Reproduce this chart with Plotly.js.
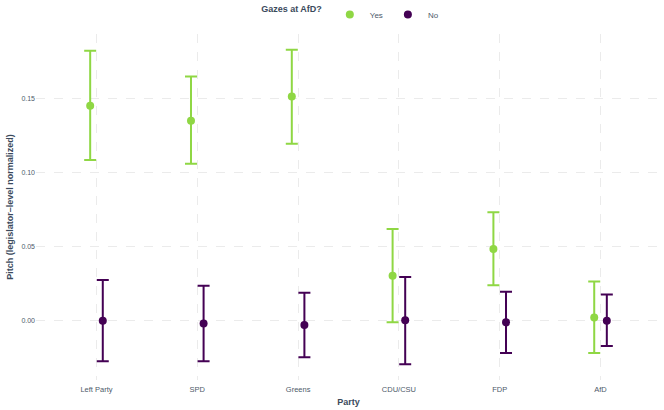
<!DOCTYPE html>
<html>
<head>
<meta charset="utf-8">
<script src="https://cdn.plot.ly/plotly-3.0.1.min.js"></script>
<style>
  html, body { margin: 0; padding: 0; background: #fff; }
  #chart { width: 664px; height: 410px; }
</style>
</head>
<body>
<div id="chart"></div>
<script>
const parties = ["Left Party", "SPD", "Greens", "CDU/CSU", "FDP", "AfD"];

// Gazes at AfD = Yes
const yesMean  = [0.1453, 0.1350, 0.1514, 0.0304, 0.0484, 0.0022];
const yesUpper = [0.1824, 0.1650, 0.1830, 0.0620, 0.0732, 0.0264];
const yesLower = [0.1086, 0.1060, 0.1196, -0.0011, 0.0239, -0.0218];

// Gazes at AfD = No
const noMean  = [0.0000, -0.0020, -0.0029, 0.0002, -0.0011, 0.0000];
const noUpper = [0.0274, 0.0236, 0.0189, 0.0295, 0.0196, 0.0176];
const noLower = [-0.0275, -0.0275, -0.0248, -0.0295, -0.0218, -0.0171];

const yesColor = "#8fd744";
const noColor = "#440154";

function makeTrace(name, mean, upper, lower, color) {
  return {
    type: "scatter",
    mode: "markers",
    name: name,
    x: parties,
    y: mean,
    offsetgroup: name,
    marker: { color: color, size: 8 },
    error_y: {
      type: "data",
      symmetric: false,
      array: upper.map((u, i) => u - mean[i]),
      arrayminus: lower.map((l, i) => mean[i] - l),
      color: color,
      thickness: 2,
      width: 6
    }
  };
}

const traces = [
  makeTrace("Yes", yesMean, yesUpper, yesLower, yesColor),
  makeTrace("No", noMean, noUpper, noLower, noColor)
];

const layout = {
  width: 664,
  height: 410,
  margin: { l: 36, r: 3, t: 34, b: 30, autoexpand: false },
  paper_bgcolor: "#fff",
  plot_bgcolor: "#fff",
  font: { family: "Liberation Sans, Arial, sans-serif", size: 8, color: "#4d5a6a" },
  scattermode: "group",
  scattergap: 0.75,
  showlegend: true,
  legend: {
    orientation: "h",
    x: 0.505,
    xanchor: "center",
    yref: "container",
    y: 1,
    yanchor: "top",
    title: { text: "<b>Gazes at AfD?</b>", side: "left", font: { size: 9, color: "#3b4a5c" } },
    font: { size: 8, color: "#4d5a6a" },
    itemwidth: 30
  },
  xaxis: {
    type: "category",
    range: [-0.6, 5.6],
    showgrid: true,
    gridcolor: "#ebebeb",
    griddash: "dash",
    gridwidth: 1,
    zeroline: false,
    showline: false,
    ticks: "",
    ticklabelstandoff: 3,
    tickfont: { size: 7.5, color: "#4d5a6a" },
    title: { text: "<b>Party</b>", font: { size: 9, color: "#3b4a5c" }, standoff: 6 }
  },
  yaxis: {
    range: [-0.0401, 0.1937],
    tickvals: [0, 0.05, 0.1, 0.15],
    ticktext: ["0.00", "0.05", "0.10", "0.15"],
    showgrid: true,
    gridcolor: "#ebebeb",
    griddash: "dash",
    gridwidth: 1,
    zeroline: false,
    showline: false,
    ticks: "",
    tickfont: { size: 7, color: "#4d5a6a" },
    title: { text: "<b>Pitch (legislator\u2013level normalized)</b>", font: { size: 9, color: "#3b4a5c" }, standoff: 6 }
  }
};

Plotly.newPlot("chart", traces, layout, { displayModeBar: false, staticPlot: true });
</script>
</body>
</html>
